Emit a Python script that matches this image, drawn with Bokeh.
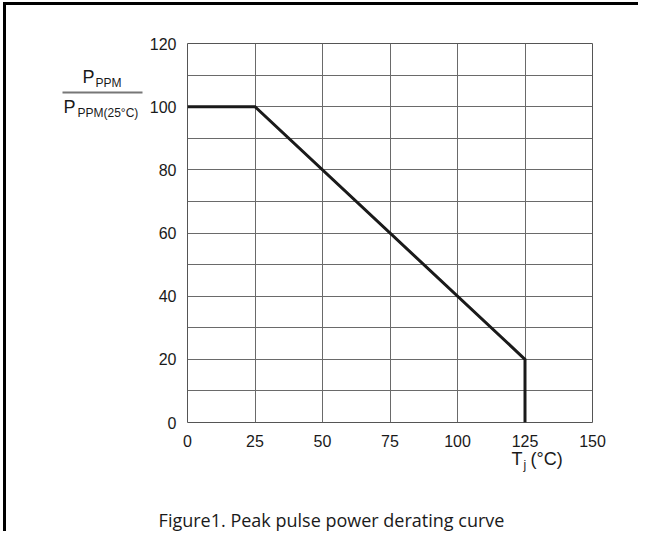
from bokeh.plotting import figure
from bokeh.models import Range1d, FixedTicker, Label
from bokeh.embed import file_html
from bokeh.resources import INLINE

# ---- data ----
temp_c = [0, 25, 125, 125]
power_pct = [100, 100, 20, 0]
x_ticks = [0, 25, 50, 75, 100, 125, 150]
y_ticks = [0, 20, 40, 60, 80, 100, 120]
y_grid = [0, 10, 20, 30, 40, 50, 60, 70, 80, 90, 100, 110, 120]
caption = "Figure1. Peak pulse power derating curve"

X0, X1, Y0, Y1 = 0, 150, 0, 120
W, H = 638, 531
FL, FR, FT, FB = 187, 592, 43, 422  # frame edges in canvas px
DY = -7  # empirical vertical correction for side-panel labels

p = figure(width=W, height=H, output_backend="svg", toolbar_location=None,
           x_range=Range1d(X0, X1), y_range=Range1d(Y0, Y1),
           min_border_left=FL, min_border_right=W - FR,
           min_border_top=FT, min_border_bottom=H - FB,
           styles={"box-shadow": "inset 3px 2px 0 0 #ffffff, inset 6px 5px 0 0 #000000"})
p.background_fill_color = "white"
p.border_fill_color = None
p.outline_line_color = "#555555"
p.outline_line_width = 1

for ax in (p.xaxis[0], p.yaxis[0]):
    ax.axis_line_color = None
    ax.major_tick_line_color = None
    ax.minor_tick_line_color = None
    ax.major_tick_out = 0
    ax.major_tick_in = 0
    ax.major_label_text_font = "Liberation Sans"
    ax.major_label_text_font_size = "16px"
    ax.major_label_text_color = "#1a1a1a"

p.xaxis.ticker = FixedTicker(ticks=x_ticks)
p.yaxis.ticker = FixedTicker(ticks=y_ticks)
p.xaxis.major_label_standoff = 12
p.yaxis.major_label_standoff = 11

p.xgrid.ticker = FixedTicker(ticks=x_ticks)
p.ygrid.ticker = FixedTicker(ticks=y_grid)
for g in (p.xgrid[0], p.ygrid[0]):
    g.grid_line_color = "#6a6a6a"
    g.grid_line_width = 1
    g.grid_line_alpha = 1

p.line(temp_c, power_pct, line_color="#1a1a1a", line_width=3, line_join="miter")


def dx(cx):
    return X0 + (cx - FL) * (X1 - X0) / (FR - FL)


def dy(cy):
    return Y0 + (FB - cy) * (Y1 - Y0) / (FB - FT)


def lab(side, text, cx, cy, size, font="Liberation Sans", align="left", color="#1a1a1a", **kw):
    p.add_layout(Label(x=dx(cx), y=dy(cy + DY), text=text, text_font=font,
                       text_font_size=size, text_color=color,
                       text_align=align, text_baseline="alphabetic", **kw), side)


# y-axis label as a fraction
lab("right", "P", 82, 83, "18px")
lab("above", "PPM", 95, 89, "12px")
lab("left", "\u2003" * 40, 62, 99, "2px", color="#777777",
    background_fill_color="#777777", padding=0)
lab("right", "P", 63, 113, "18px")
lab("left", "PPM(25°C)", 77, 119, "12px")

# x-axis label
lab("below", "T", 511, 465, "18px")
lab("above", "j", 523, 471, "12px")
lab("below", "(°C)", 530, 465, "18px")

# caption
lab("below", caption, 331, 526, "18px", font="Open Sans", align="center")

open("out.html", "w").write(file_html(p, INLINE))
